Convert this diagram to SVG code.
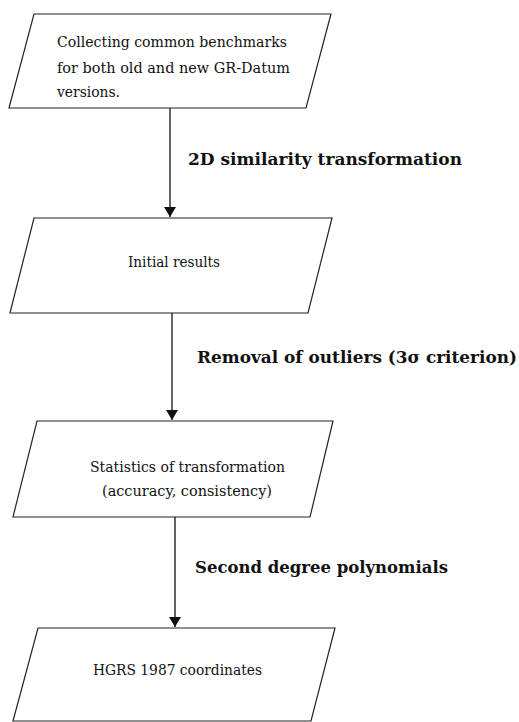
<svg xmlns="http://www.w3.org/2000/svg" width="519" height="722" viewBox="0 0 519 722">
<defs>
<style>
.box{fill:#fff;stroke:#222;stroke-width:1.2}
.t{font-family:'DejaVu Serif',serif;font-size:14px;fill:#111}
.lbl{font-family:'DejaVu Serif',serif;font-size:16px;font-weight:bold;fill:#111}
.edge{stroke:#111;stroke-width:1.3;fill:none}
</style>
<marker id="ah" viewBox="0 0 10 12" refX="10" refY="6" markerWidth="10" markerHeight="12" markerUnits="userSpaceOnUse" orient="auto">
<path d="M0,0 L10,6 L0,12 Z" fill="#111"/>
</marker>
</defs>
<rect width="519" height="722" fill="#fff"/>
<g id="connectors">
<line class="edge" x1="170" y1="108" x2="170" y2="217" marker-end="url(#ah)"/>
<line class="edge" x1="172" y1="313" x2="172" y2="420" marker-end="url(#ah)"/>
<line class="edge" x1="175" y1="517" x2="175" y2="627" marker-end="url(#ah)"/>
<text class="lbl" x="188" y="165" textLength="274" lengthAdjust="spacingAndGlyphs">2D similarity transformation</text>
<text class="lbl" x="197" y="363" textLength="320" lengthAdjust="spacingAndGlyphs">Removal of outliers (3σ criterion)</text>
<text class="lbl" x="195" y="573" textLength="253" lengthAdjust="spacingAndGlyphs">Second degree polynomials</text>
</g>
<g id="node1">
<polygon class="box" points="34,14 331,14 306,108 9,108"/>
<text class="t" x="57" y="47" textLength="230" lengthAdjust="spacingAndGlyphs">Collecting common benchmarks</text>
<text class="t" x="57" y="73" textLength="233" lengthAdjust="spacingAndGlyphs">for both old and new GR-Datum</text>
<text class="t" x="57" y="97" textLength="63" lengthAdjust="spacingAndGlyphs">versions.</text>
</g>
<g id="node2">
<polygon class="box" points="34,218 332,218 308,313 10,313"/>
<text class="t" x="128" y="267" textLength="92" lengthAdjust="spacingAndGlyphs">Initial results</text>
</g>
<g id="node3">
<polygon class="box" points="37,421 333,421 310,517 13,517"/>
<text class="t" x="90" y="472" textLength="195" lengthAdjust="spacingAndGlyphs">Statistics of transformation</text>
<text class="t" x="102" y="496" textLength="170" lengthAdjust="spacingAndGlyphs">(accuracy, consistency)</text>
</g>
<g id="node4">
<polygon class="box" points="38,628 335,628 311,721 13,721"/>
<text class="t" x="93" y="675" textLength="169" lengthAdjust="spacingAndGlyphs">HGRS 1987 coordinates</text>
</g>
</svg>
